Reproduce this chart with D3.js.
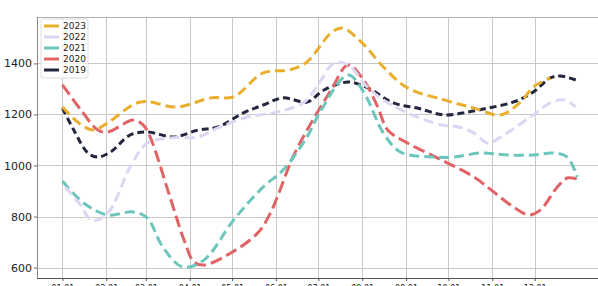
<!DOCTYPE html>
<meta charset="utf-8">
<html>
<head>
<style>
  body { margin: 0; background: #fff; }
  text { font-family: "DejaVu Sans", sans-serif; }
</style>
</head>
<body>
<div id="my_dataviz"></div>
<script src="https://d3js.org/d3.v7.min.js"></script>
<script>

  // data (dates as MM-DD, values per series)
  var years = ["2023", "2022", "2021", "2020", "2019"];
  var colors = ["#eaae2c", "#ddd6f2", "#6cc6bb", "#e06466", "#23263f"];

  var dates2023 = ["01-01","01-13","01-23","02-02","02-25","03-23","04-16","05-02","05-23","06-11","06-23","07-10","07-18","08-01","08-16","09-02","09-28","10-19","11-07","11-21","11-30","12-12"];
  var values2023 = [1229,1165,1139,1167,1249,1229,1265,1269,1363,1375,1406,1520,1539,1480,1386,1304,1257,1225,1198,1249,1308,1343];

  var dates2022 = ["01-03","01-13","01-22","02-02","02-18","03-02","03-18","04-07","04-21","05-12","06-02","06-21","07-03","07-12","07-22","08-05","08-16","09-02","09-26","10-08","10-19","10-29","11-09","11-30","12-12","12-22","12-30"];
  var values2022 = [915,850,785,813,995,1088,1108,1112,1147,1190,1210,1249,1335,1402,1394,1305,1257,1206,1159,1151,1127,1088,1119,1198,1245,1257,1229];

  var dates2021 = ["01-01","01-16","02-02","02-20","03-02","03-13","03-27","04-11","05-02","05-23","06-06","06-23","07-03","07-22","08-02","08-16","08-28","09-21","10-05","10-24","11-12","11-30","12-14","12-24","12-31"];
  var values2021 = [939,853,806,818,794,680,602,629,786,916,982,1112,1218,1355,1288,1127,1053,1033,1033,1049,1041,1041,1049,1033,955];

  var dates2020 = ["01-01","01-14","01-26","02-02","02-20","02-27","03-04","03-18","03-28","04-04","04-11","04-30","05-19","05-28","06-13","06-23","07-10","07-22","08-02","08-12","08-19","09-02","09-26","10-19","11-02","11-16","11-27","12-05","12-17","12-24","12-31"];
  var values2020 = [1316,1218,1139,1131,1178,1159,1112,877,708,622,610,657,735,813,1033,1139,1296,1394,1335,1229,1139,1088,1022,955,896,837,806,826,916,951,947];

  var dates2019 = ["01-01","01-09","01-19","01-26","02-04","02-18","03-02","03-21","04-07","04-21","05-09","05-23","06-06","06-23","07-05","07-22","08-05","08-23","09-09","09-28","10-15","10-29","11-16","11-30","12-12","12-19","12-30"];
  var values2019 = [1225,1139,1049,1033,1053,1120,1131,1112,1139,1151,1206,1237,1265,1249,1296,1327,1304,1245,1225,1198,1210,1225,1249,1288,1343,1351,1335];

  var allDates = [dates2023, dates2022, dates2021, dates2020, dates2019];
  var allValues = [values2023, values2022, values2021, values2020, values2019];
  var dashes = ["10,5", "10,5", "10,5", "12,5", "7,4"];

  var yTicks = [600, 800, 1000, 1200, 1400];

  var W = 598, H = 286;
  var pLeft = 37, pTop = 17, pBottom = 278, pRight = 621;

  var parse = d3.timeParse("%Y-%m-%d");
  function toDate(md) { return parse("2019-" + md); }

  var svg = d3.select("#my_dataviz")
    .append("svg")
      .attr("width", W)
      .attr("height", H);

  var x = d3.scaleTime()
    .domain([new Date(2018, 11, 14), new Date(2020, 0, 31)])
    .range([pLeft, pRight]);

  var y = d3.scaleLinear()
    .domain([559, 1582])
    .range([pBottom, pTop]);

  var monthTicks = d3.timeMonth.range(new Date(2019, 0, 1), new Date(2019, 11, 2));

  // grid
  svg.append("g")
    .selectAll("line")
    .data(monthTicks)
    .enter().append("line")
      .attr("x1", function(d) { return Math.round(x(d)) + 0.5; })
      .attr("x2", function(d) { return Math.round(x(d)) + 0.5; })
      .attr("y1", pTop)
      .attr("y2", pBottom)
      .attr("stroke", "#c8c8c8")
      .attr("stroke-width", 1);

  svg.append("g")
    .selectAll("line")
    .data(yTicks)
    .enter().append("line")
      .attr("x1", pLeft)
      .attr("x2", W)
      .attr("y1", function(d) { return Math.round(y(d)) + 0.5; })
      .attr("y2", function(d) { return Math.round(y(d)) + 0.5; })
      .attr("stroke", "#c8c8c8")
      .attr("stroke-width", 1);

  // frame top
  svg.append("line")
    .attr("x1", pLeft).attr("x2", W)
    .attr("y1", pTop + 0.5).attr("y2", pTop + 0.5)
    .attr("stroke", "#b0b0b0");

  // clip for the lines
  svg.append("clipPath").attr("id", "clip")
    .append("rect")
      .attr("x", pLeft).attr("y", pTop)
      .attr("width", W - pLeft).attr("height", pBottom - pTop);

  var line = d3.line()
    .curve(d3.curveCatmullRom.alpha(0.5))
    .x(function(d) { return x(d.date); })
    .y(function(d) { return y(d.value); });

  // draw oldest first so 2023 ends on top
  for (var i = years.length - 1; i >= 0; i--) {
    var pts = allDates[i].map(function(md, j) {
      return { date: toDate(md), value: allValues[i][j] };
    });
    svg.append("path")
      .datum(pts)
      .attr("clip-path", "url(#clip)")
      .attr("fill", "none")
      .attr("stroke", colors[i])
      .attr("stroke-width", 3)
      .attr("stroke-dasharray", dashes[i])
      .attr("d", line);
  }

  // axes
  var yAxis = svg.append("g")
    .attr("transform", "translate(" + pLeft + ",0)")
    .call(d3.axisLeft(y).tickValues(yTicks).tickSize(3).tickPadding(2).tickFormat(d3.format("d")));
  yAxis.select(".domain").attr("stroke", "#888").attr("d", "M0.5," + pTop + "V" + pBottom);
  yAxis.selectAll(".tick line").attr("stroke", "#666");
  yAxis.selectAll("text").attr("font-size", 11).attr("fill", "#222")
    .style("font-family", "'DejaVu Sans', sans-serif");

  var xAxis = svg.append("g")
    .attr("transform", "translate(0," + pBottom + ")")
    .call(d3.axisBottom(x).tickValues(monthTicks).tickSize(3).tickPadding(4).tickFormat(d3.timeFormat("%m.%d")));
  xAxis.select(".domain").attr("stroke", "#555").attr("d", "M" + pLeft + ",0.5H" + W);
  xAxis.selectAll(".tick line").attr("stroke", "#555");
  xAxis.selectAll("text").attr("font-size", 8).attr("fill", "#222")
    .style("font-family", "'DejaVu Sans', sans-serif");

  // legend
  var legend = svg.append("g").attr("transform", "translate(41,19)");
  legend.append("rect")
    .attr("width", 47).attr("height", 59)
    .attr("fill", "white").attr("fill-opacity", 0.8)
    .attr("stroke", "#ddd").attr("rx", 2);
  years.forEach(function(yr, k) {
    var g = legend.append("g").attr("transform", "translate(0," + (7 + k * 11) + ")");
    g.append("line")
      .attr("x1", 3).attr("x2", 18)
      .attr("y1", 0).attr("y2", 0)
      .attr("stroke", colors[k]).attr("stroke-width", 3);
    g.append("text")
      .attr("x", 22).attr("y", 0).attr("dy", "0.35em")
      .attr("font-size", 9).attr("fill", "#222")
      .text(yr);
  });

</script>
</body>
</html>
